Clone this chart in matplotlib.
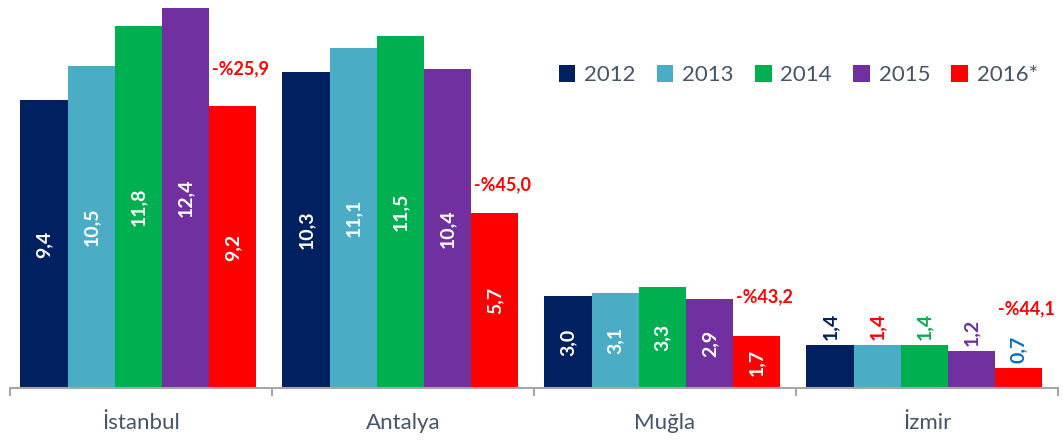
import numpy as np
import matplotlib
matplotlib.use("Agg")
import matplotlib.pyplot as plt

plt.rcParams['font.family'] = ['Lato', 'DejaVu Sans']

cities = ["İstanbul", "Antalya", "Muğla", "İzmir"]
years = ["2012", "2013", "2014", "2015", "2016*"]
values = {
    "2012": [9.4, 10.3, 3.0, 1.4],
    "2013": [10.5, 11.1, 3.1, 1.4],
    "2014": [11.8, 11.5, 3.3, 1.4],
    "2015": [12.4, 10.4, 2.9, 1.2],
    "2016*": [9.2, 5.7, 1.7, 0.65],
}
value_labels = {
    "2012": ["9,4", "10,3", "3,0", "1,4"],
    "2013": ["10,5", "11,1", "3,1", "1,4"],
    "2014": ["11,8", "11,5", "3,3", "1,4"],
    "2015": ["12,4", "10,4", "2,9", "1,2"],
    "2016*": ["9,2", "5,7", "1,7", "0,7"],
}
changes = ["-%25,9", "-%45,0", "-%43,2", "-%44,1"]

colors = ["#002060", "#4BACC6", "#00B050", "#7030A0", "#FF0000"]
# label colours for small bars whose labels sit outside
outside_colors = ["#002060", "#FF0000", "#00B050", "#7030A0", "#0070C0"]
change_offsets = [37, 29, 39, 59]  # px above 2016 bar top

fig = plt.figure(figsize=(10.63, 4.42), dpi=100)
ax = fig.add_axes([10 / 1063, 54 / 442, 1048 / 1063, 388 / 442])

x = np.arange(len(cities))
w = 0.18
for i, y in enumerate(years):
    pos = x + (i - 2) * w - 0.01
    bars = ax.bar(pos, values[y], width=w, color=colors[i], label=y, zorder=2)
    for j, b in enumerate(bars):
        h = b.get_height()
        if h < 1.5:
            ax.annotate(value_labels[y][j], (b.get_x() + w / 2, h), xytext=(0, 4),
                        textcoords="offset points", ha="center", va="bottom",
                        rotation=90, fontsize=14, fontweight="bold",
                        color=outside_colors[i])
        else:
            ax.text(b.get_x() + w / 2, h / 2, value_labels[y][j], ha="center",
                    va="center", rotation=90, fontsize=14, fontweight="bold",
                    color="white")
    if y == "2016*":
        for j, b in enumerate(bars):
            ax.annotate(changes[j], (b.get_x(), b.get_height()),
                        xytext=(2, change_offsets[j] * 0.72),
                        textcoords="offset points", ha="left", va="center",
                        fontsize=13, fontweight="bold", color="#FF0000",
                        annotation_clip=False)

ax.set_xlim(-0.5, 3.5)
ax.set_ylim(0, 12.66)
ax.set_yticks([])
for s in ["left", "right", "top"]:
    ax.spines[s].set_visible(False)
ax.spines["bottom"].set_color("#A6A6A6")
ax.spines["bottom"].set_linewidth(1.5)
ax.set_xticks(x)
ax.set_xticklabels(cities, fontsize=16, color="#44546A")
ax.tick_params(axis="x", which="major", length=0, pad=18)
ax.set_xticks(np.arange(-0.5, 4.0, 1.0), minor=True)
ax.tick_params(axis="x", which="minor", length=6, width=1.5, color="#A6A6A6", direction="out")

leg = ax.legend(loc="upper left", bbox_to_anchor=(0.515, 0.855), ncol=5, frameon=False,
                fontsize=16, handlelength=0.75, handleheight=0.75, handletextpad=0.4,
                columnspacing=0.95, borderaxespad=0)
for t in leg.get_texts():
    t.set_color("#44546A")

plt.savefig("out.png", dpi=100)
